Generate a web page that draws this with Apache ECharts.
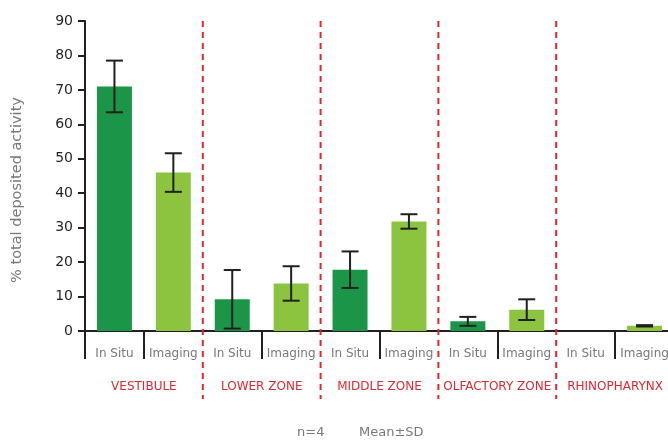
<!DOCTYPE html>
<html>
<head>
<meta charset="utf-8">
<style>
  html, body { margin: 0; padding: 0; background: #ffffff; }
  #chart { width: 668px; height: 440px; }
</style>
<script src="https://cdn.jsdelivr.net/npm/echarts@6/dist/echarts.min.js"></script>
</head>
<body>
<div id="chart"></div>
<script>
// Nasal regions and measurement methods
const regions = ['VESTIBULE', 'LOWER ZONE', 'MIDDLE ZONE', 'OLFACTORY ZONE', 'RHINOPHARYNX'];
const methods = ['In Situ', 'Imaging'];

// % total deposited activity, mean and SD per region (n=4)
const inSituMean  = [71.0, 9.2, 17.8, 2.8, 0];
const inSituSD    = [7.5, 8.5, 5.3, 1.3, null];
const imagingMean = [46.0, 13.8, 31.8, 6.2, 1.5];
const imagingSD   = [5.6, 5.0, 2.1, 3.0, 0.2];

// Value axis
const yMin = 0, yMax = 90, yStep = 10;

const FONT = 'DejaVu Sans';
const IN_SITU_COLOR = '#1b9649';
const IMAGING_COLOR = '#8cc43f';
const RED = '#e2262f';
const INK = '#231f20';
const GREY = '#77787b';

// One category per (region, method) pair
const categories = [];
const bars = [];
const errors = [];
regions.forEach((r, i) => {
  methods.forEach((m, j) => {
    const idx = categories.length;
    categories.push(r + '|' + m);
    const mean = j === 0 ? inSituMean[i] : imagingMean[i];
    const sd = j === 0 ? inSituSD[i] : imagingSD[i];
    bars.push({ value: mean, itemStyle: { color: j === 0 ? IN_SITU_COLOR : IMAGING_COLOR } });
    if (sd != null) errors.push([idx, mean - sd, mean + sd]);
  });
});

// Region boundaries sit after every second category
const dividers = regions.slice(0, -1).map((_, i) => [i * 2 + 1, 0]);

const chart = echarts.init(document.getElementById('chart'), null, { renderer: 'canvas' });

chart.setOption({
  animation: false,
  textStyle: { fontFamily: FONT },
  // the last category runs slightly past the right edge of the canvas
  grid: { left: 85, width: 589, top: 21, bottom: 109, outerBoundsMode: 'none', containLabel: false },
  xAxis: [
    {
      type: 'category',
      data: categories,
      position: 'bottom',
      axisLine: { lineStyle: { color: INK, width: 2 } },
      axisTick: {
        show: true,
        length: 28,
        lineStyle: { color: INK, width: 2 },
        interval: (index) => index === 0 || index % 2 === 1
      },
      axisLabel: {
        interval: 0,
        hideOverlap: false,
        margin: 17,
        fontSize: 12,
        color: GREY,
        fontFamily: FONT,
        formatter: (v) => v.split('|')[1]
      }
    },
    {
      type: 'category',
      data: regions,
      position: 'bottom',
      offset: 42,
      axisLine: { show: false },
      axisTick: { show: false },
      axisLabel: { interval: 0, hideOverlap: false, margin: 8, fontSize: 12, color: RED, fontFamily: FONT }
    }
  ],
  yAxis: {
    type: 'value',
    min: yMin,
    max: yMax,
    interval: yStep,
    name: '% total deposited activity',
    nameLocation: 'middle',
    nameGap: 60,
    nameTextStyle: { fontSize: 14.5, color: GREY, fontFamily: FONT, padding: [0, 28, 0, 0] },
    axisLine: { show: true, lineStyle: { color: INK, width: 2 } },
    axisTick: { show: true, length: 7, lineStyle: { color: INK, width: 2 } },
    axisLabel: { fontSize: 14, color: INK, margin: 12, fontFamily: FONT },
    splitLine: { show: false }
  },
  series: [
    {
      type: 'bar',
      xAxisIndex: 0,
      data: bars,
      barWidth: 35
    },
    {
      // Mean ± SD whiskers
      type: 'custom',
      xAxisIndex: 0,
      z: 5,
      data: errors,
      encode: { x: 0, y: [1, 2] },
      renderItem: (params, api) => {
        const x = api.value(0);
        const lo = api.coord([x, api.value(1)]);
        const hi = api.coord([x, api.value(2)]);
        const cap = 8.5;
        const style = { stroke: INK, lineWidth: 2 };
        return {
          type: 'group',
          children: [
            { type: 'line', shape: { x1: hi[0], y1: hi[1], x2: lo[0], y2: lo[1] }, style },
            { type: 'line', shape: { x1: hi[0] - cap, y1: hi[1], x2: hi[0] + cap, y2: hi[1] }, style },
            { type: 'line', shape: { x1: lo[0] - cap, y1: lo[1], x2: lo[0] + cap, y2: lo[1] }, style }
          ]
        };
      }
    },
    {
      // Dashed region separators, running down through the label rows
      type: 'custom',
      xAxisIndex: 0,
      z: 10,
      clip: false,
      data: dividers,
      encode: { x: 0, y: 1 },
      renderItem: (params, api) => {
        const idx = api.value(0);
        const top = api.coord([idx, yMax]);
        const base = api.coord([idx, yMin]);
        const x = top[0] + api.size([1, 0])[0] / 2;
        return {
          type: 'line',
          shape: { x1: x, y1: top[1], x2: x, y2: base[1] + 68 },
          style: { stroke: RED, lineWidth: 2, lineDash: [6, 5] }
        };
      }
    }
  ],
  graphic: [
    {
      type: 'text',
      left: 297,
      top: 426,
      style: { text: 'n=4', fill: GREY, font: '13px "' + FONT + '"' }
    },
    {
      type: 'text',
      left: 359,
      top: 426,
      style: { text: 'Mean\u00b1SD', fill: GREY, font: '13px "' + FONT + '"' }
    }
  ]
});
</script>
</body>
</html>
